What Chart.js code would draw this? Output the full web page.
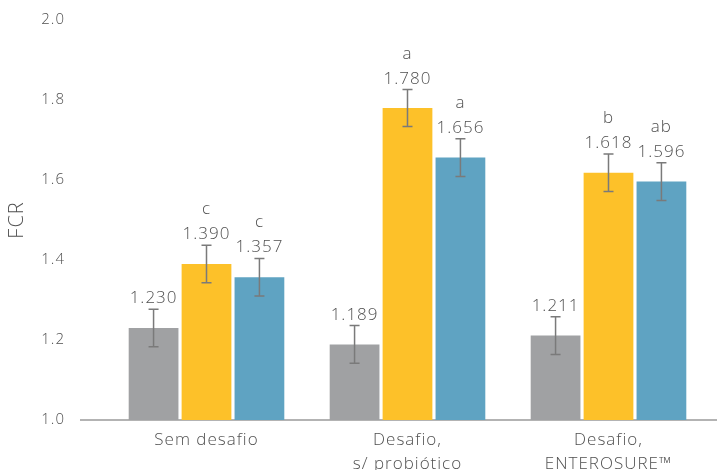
<!DOCTYPE html>
<html>
<head>
<meta charset="utf-8">
<script src="https://cdn.jsdelivr.net/npm/chart.js@4.4.1/dist/chart.umd.min.js"></script>
<style>
  html, body { margin: 0; padding: 0; background: #fff; }
  #wrap { width: 717px; height: 470px; }
</style>
</head>
<body>
<div id="wrap"><canvas id="fcrChart" width="717" height="470"></canvas></div>
<script>
const categories = ['Sem desafio', ['Desafio,', 's/ probiótico'], ['Desafio,', 'ENTEROSURE™']];

const serie1 = [1.230, 1.189, 1.211];
const serie2 = [1.390, 1.780, 1.618];
const serie3 = [1.357, 1.656, 1.596];

const erro1 = [0.047, 0.047, 0.047];
const erro2 = [0.047, 0.046, 0.047];
const erro3 = [0.047, 0.047, 0.047];

const letras2 = ['c', 'a', 'b'];
const letras3 = ['c', 'a', 'ab'];

const yTicks = [1.0, 1.2, 1.4, 1.6, 1.8, 2.0];

const FONT = '"Open Sans", Lato, sans-serif';
const TXT = '#505050';

// wider type for every label drawn on the canvas
const spacingPlugin = {
  id: 'spacing',
  beforeDraw(chart) { chart.ctx.letterSpacing = '1px'; }
};

// axis line, error bars, value labels and significance letters
const extrasPlugin = {
  id: 'extras',
  beforeDatasetsDraw(chart) {
    const { ctx, chartArea, scales } = chart;
    const y = scales.y.getPixelForValue(1.0);
    ctx.save();
    ctx.strokeStyle = '#b3b3b3';
    ctx.lineWidth = 2;
    ctx.beginPath();
    ctx.moveTo(chartArea.left - 26, y);
    ctx.lineTo(chart.width, y);
    ctx.stroke();
    ctx.restore();
  },
  afterDatasetsDraw(chart) {
    const { ctx, scales } = chart;
    ctx.save();
    chart.data.datasets.forEach((ds, i) => {
      const meta = chart.getDatasetMeta(i);
      meta.data.forEach((bar, j) => {
        const v = ds.data[j];
        const e = ds.erro[j];
        const yTop = scales.y.getPixelForValue(v + e);
        const yBot = scales.y.getPixelForValue(v - e);
        const x = bar.x;
        ctx.strokeStyle = '#7a7a7a';
        ctx.lineWidth = 1.5;
        ctx.beginPath();
        ctx.moveTo(x, yTop); ctx.lineTo(x, yBot);
        ctx.moveTo(x - 5, yTop); ctx.lineTo(x + 5, yTop);
        ctx.moveTo(x - 5, yBot); ctx.lineTo(x + 5, yBot);
        ctx.stroke();

        ctx.fillStyle = TXT;
        ctx.textAlign = 'center';
        ctx.textBaseline = 'alphabetic';
        ctx.font = '300 17px ' + FONT;
        ctx.fillText(v.toFixed(3), x, yTop - 6);
        if (ds.letras) {
          ctx.fillText(ds.letras[j], x, yTop - 31);
        }
      });
    });
    ctx.restore();
  }
};

new Chart(document.getElementById('fcrChart'), {
  type: 'bar',
  data: {
    labels: categories,
    datasets: [
      { data: serie1, erro: erro1, backgroundColor: '#a0a1a3' },
      { data: serie2, erro: erro2, letras: letras2, backgroundColor: '#fdc129' },
      { data: serie3, erro: erro3, letras: letras3, backgroundColor: '#5fa3c2' }
    ]
  },
  options: {
    responsive: false,
    animation: false,
    layout: { padding: { top: 20, right: 8, bottom: 0, left: 0 } },
    datasets: { bar: { categoryPercentage: 0.79, barPercentage: 0.94 } },
    plugins: { legend: { display: false }, tooltip: { enabled: false } },
    scales: {
      x: {
        grid: { display: false, drawTicks: false },
        border: { display: false },
        ticks: { color: TXT, padding: 8, font: { family: FONT, size: 17, weight: 300, lineHeight: 1.4 } },
        afterFit(scale) { scale.height = 50; scale.paddingTop = 0; scale.paddingBottom = 0; }
      },
      y: {
        min: 1.0,
        max: 2.0,
        grid: { display: false, drawTicks: false },
        border: { display: false },
        afterBuildTicks(scale) { scale.ticks = yTicks.map(v => ({ value: v })); },
        ticks: {
          color: TXT,
          padding: 41,
          font: { family: FONT, size: 15, weight: 300 },
          callback: v => v.toFixed(1)
        },
        title: {
          display: true,
          text: 'FCR',
          color: TXT,
          padding: { top: 5, bottom: 0 },
          font: { family: FONT, size: 20, weight: 300 }
        },
        afterFit(scale) { scale.width = 106; scale.paddingTop = 0; scale.paddingBottom = 0; }
      }
    }
  },
  plugins: [spacingPlugin, extrasPlugin]
});
</script>
</body>
</html>
